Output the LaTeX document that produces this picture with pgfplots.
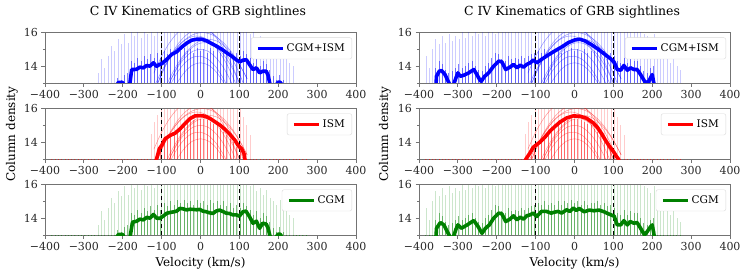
\documentclass[border=0pt]{standalone}
\usepackage{fontspec}
\setmainfont{DejaVu Serif}
\usepackage{pgfplots}
\pgfplotsset{compat=1.18}
\usepackage{pgfplotstable}

\definecolor{mgreen}{RGB}{0,128,0}

% vertical stripes: v, left CGM tall, left CGM mid, right CGM tall, right CGM mid, ISM tall, ISM mid
\pgfplotstableread{
v L Lm R Rm I Im
-382.5 0 0 14.6 0 0 0
-374 0 0 13.9 0 0 0
-365.5 0 0 15.0 0 0 0
-357 0 0 15.6 13.9 0 0
-348.5 0 0 15.3 14.3 0 0
-340 0 0 15.8 14.1 0 0
-331.5 0 0 15.4 13.8 0 0
-323 0 0 15.9 13.6 0 0
-314.5 0 0 15.5 13.7 0 0
-306 0 0 15.8 13.9 0 0
-297.5 0 0 15.6 14.1 0 0
-289 0 0 16.0 13.9 0 0
-280.5 0 0 15.7 14.0 0 0
-272 0 0 16.0 14.2 0 0
-263.5 13.6 0 15.8 14.3 0 0
-255 14.4 0 16.0 14.0 0 0
-246.5 13.9 0 15.9 13.8 0 0
-238 14.6 0 16.0 13.7 0 0
-229.5 15.2 0 15.8 14.0 0 0
-221 14.9 0 16.0 14.2 0 0
-212.5 15.6 13.3 16.0 14.5 0 0
-204 15.3 13.2 15.9 14.8 0 0
-195.5 15.9 13.5 16.0 14.7 0 0
-187 15.4 13.6 16.0 14.4 0 0
-178.5 16.0 14.3 16.0 14.3 0 0
-170 15.8 14.2 16.0 14.6 0 0
-161.5 16.0 14.5 16.0 14.4 0 0
-153 15.7 14.3 16.0 14.5 0 0
-144.5 16.0 14.6 16.0 14.4 0 0
-136 15.9 14.4 16.0 14.6 0 0
-127.5 16.0 14.7 16.0 14.5 14.5 0
-119 15.8 14.5 16.0 14.6 15.2 0
-110.5 16.0 14.8 16.0 14.7 15.6 13.2
-102 16.0 14.5 16.0 14.8 16.0 13.7
-93.5 16.0 14.9 16.0 14.9 16.0 14.0
-85 16.0 14.7 16.0 14.8 16.0 14.2
-76.5 16.0 15.0 16.0 15.0 16.0 14.3
-68 16.0 14.8 16.0 14.8 16.0 14.4
-59.5 16.0 15.1 16.0 14.9 16.0 14.7
-51 16.0 14.9 16.0 14.8 16.0 14.9
-42.5 16.0 15.1 16.0 15.0 16.0 15.1
-34 16.0 14.9 16.0 14.8 16.0 15.2
-25.5 16.0 15.0 16.0 15.0 16.0 15.3
-17 16.0 14.8 16.0 14.9 16.0 15.3
-8.5 16.0 15.1 16.0 15.1 16.0 15.4
0 16.0 14.9 16.0 14.9 16.0 15.4
8.5 16.0 15.0 16.0 15.0 16.0 15.4
17 16.0 14.8 16.0 14.8 16.0 15.3
25.5 16.0 15.1 16.0 15.0 16.0 15.2
34 16.0 14.9 16.0 14.8 16.0 15.1
42.5 16.0 15.0 16.0 14.9 16.0 15.0
51 16.0 14.8 16.0 14.9 16.0 14.8
59.5 16.0 15.0 16.0 15.0 16.0 14.6
68 16.0 14.7 16.0 14.8 16.0 14.4
76.5 16.0 14.9 16.0 14.9 16.0 14.2
85 16.0 14.6 16.0 14.7 16.0 14.0
93.5 16.0 14.8 16.0 14.8 16.0 13.7
102 16.0 14.6 16.0 14.6 16.0 13.5
110.5 16.0 14.9 16.0 14.3 15.5 13.2
119 16.0 14.7 16.0 14.2 15.0 0
127.5 15.9 14.5 16.0 14.5 14.4 0
136 16.0 14.2 16.0 14.2 0 0
144.5 15.6 14.4 16.0 14.4 0 0
153 15.8 14.0 16.0 14.3 0 0
161.5 15.4 14.3 16.0 14.3 0 0
170 15.7 14.1 16.0 14.0 0 0
178.5 15.2 13.8 15.9 13.7 0 0
187 15.0 13.4 15.8 13.6 0 0
195.5 14.8 13.2 15.5 13.9 0 0
204 15.1 13.5 15.9 14.0 0 0
212.5 14.5 13.2 15.0 0 0 0
221 14.8 0 15.3 0 0 0
229.5 14.2 0 14.6 0 0 0
238 14.0 0 14.9 0 0 0
246.5 0 0 14.2 0 0 0
255 0 0 14.5 0 0 0
263.5 0 0 14.0 0 0 0
272 0 0 13.8 0 0 0
}\stripes

% faint individual ISM profiles
\pgfplotstableread{
v A B C D E F G H I
-120 12.39 12.41 10.39 10.5 10.28 12.74 9.4 10.98 13.58
-100 13.56 13.53 11.81 11.88 11.65 13.70 10.87 12.20 14.59
-80 14.51 14.43 13.0 13.0 12.76 14.49 12.07 13.24 15.38
-60 15.25 15.1 13.95 13.88 13.61 15.12 13.0 14.09 15.96
-40 15.78 15.55 14.66 14.5 14.2 15.58 13.67 14.75 16.33
-20 16.09 15.77 15.13 14.88 14.53 15.87 14.07 15.22 16.5
0 16.2 15.77 15.37 15.0 14.59 15.99 14.2 15.51 16.44
20 16.09 15.55 15.37 14.88 14.40 15.95 14.07 15.6 16.18
40 15.78 15.1 15.13 14.5 13.94 15.74 13.67 15.51 15.70
60 15.25 14.43 14.66 13.88 13.22 15.37 13.0 15.22 15.01
80 14.51 13.53 13.95 13.0 12.24 14.83 12.07 14.75 14.11
100 13.56 12.41 13.0 11.88 11.0 14.12 10.87 14.09 13.0
120 12.39 11.07 11.81 10.5 9.5 13.25 9.4 13.24 11.68
}\domes

\pgfplotstableread{
v y
-240 12.0
-215 12.9
-211 13.03
-200 13.03
-196 12.8
-188 12.3
-182 12.9
-177 13.8
-170 13.8
-164 13.82
-156 13.94
-147 13.9
-138 14.04
-130 14.0
-121 14.2
-113 13.98
-106 14.1
-100 14.14
-87 14.4
-74 14.7
-61 14.86
-48 15.14
-36 15.36
-23 15.54
-10 15.6
3 15.6
16 15.5
29 15.34
42 15.18
55 15.0
67 14.8
80 14.6
93 14.36
101 14.26
110 14.36
118 14.38
126 14.1
135 13.8
144 13.9
152 13.6
160 13.7
169 13.7
174 13.45
178 13.0
185 12.5
195 12.9
200 13.05
205 13.05
209 12.9
220 12.0
}\meanTL

\pgfplotstableread{
v y
-120 12.5
-113 13.0
-106 13.6
-100 13.8
-91 14.2
-78 14.4
-65 14.54
-52 14.8
-40 15.1
-27 15.4
-14 15.56
-1 15.58
12 15.54
25 15.4
38 15.2
51 15.0
64 14.74
76 14.46
89 14.1
97 13.8
106 13.6
112 13.3
114 13.0
120 12.5
}\meanML

\pgfplotstableread{
v y
-240 12.0
-215 12.9
-211 13.03
-200 13.03
-196 12.8
-188 12.3
-181 12.9
-175 13.76
-164 13.82
-156 13.94
-147 13.9
-138 14.05
-130 14.0
-121 14.22
-113 14.0
-104 13.99
-96 14.12
-87 14.29
-78 14.34
-70 14.37
-61 14.42
-53 14.58
-44 14.55
-36 14.49
-27 14.53
-19 14.52
-10 14.5
-2 14.52
6 14.42
15 14.38
23 14.32
32 14.28
40 14.42
49 14.48
57 14.4
66 14.3
74 14.28
83 14.2
92 14.2
100 14.12
109 14.38
117 14.42
126 14.09
135 13.7
144 13.82
152 13.4
160 13.7
169 13.65
174 13.4
178 13.0
185 12.5
195 12.9
200 13.05
205 13.05
209 12.9
220 12.0
}\meanBL

\pgfplotstableread{
v y
-370 11.5
-356 13.0
-355 13.4
-348 13.7
-342 13.74
-333 13.5
-325 13.1
-318 12.8
-311 12.9
-305 13.3
-300 13.6
-294 13.4
-285 13.46
-272 13.6
-259 13.8
-251 13.5
-244 13.2
-240 13.1
-231 13.4
-221 13.6
-208 14.0
-195 14.3
-187 14.26
-177 13.8
-166 13.94
-157 14.1
-148 13.9
-140 14.06
-131 13.94
-123 14.1
-114 14.2
-106 14.36
-97 14.2
-85 14.4
-68 14.66
-51 14.9
-33 15.14
-16 15.4
1 15.56
14 15.6
27 15.5
42 15.3
59 15.04
76 14.74
93 14.44
102 14.24
110 13.8
119 13.76
127 14.04
136 13.76
144 13.9
153 13.8
161 13.8
170 13.5
183 13.0
191 13.1
200 13.5
204 13.0
210 12.0
}\meanTR

\pgfplotstableread{
v y
-135 12.5
-125 13.0
-115 13.34
-106 13.7
-97 13.86
-89 14.0
-76 14.3
-63 14.66
-50 14.94
-37 15.2
-20 15.44
-3 15.56
14 15.54
31 15.42
48 15.15
60 14.85
70 14.5
80 14.1
90 13.75
100 13.45
108 13.15
113 13.0
120 12.5
}\meanMR

\pgfplotstableread{
v y
-370 11.5
-356 13.0
-355 13.4
-345 13.74
-336 13.6
-325 13.1
-318 12.8
-311 12.9
-305 13.34
-300 13.6
-291 13.4
-276 13.6
-259 13.86
-248 13.5
-238 13.1
-229 13.4
-219 13.6
-208 14.0
-195 14.3
-187 14.26
-177 13.8
-166 13.94
-157 14.14
-148 13.9
-140 14.06
-131 13.94
-123 14.14
-114 14.2
-106 14.3
-97 14.1
-85 14.4
-72 14.4
-60 14.3
-51 14.36
-42 14.4
-33 14.3
-20 14.5
-12 14.4
-3 14.6
5 14.46
12 14.58
25 14.38
38 14.48
50 14.44
63 14.48
76 14.38
89 14.24
102 14.12
110 13.6
119 13.6
127 13.85
136 13.6
143 13.8
153 13.7
161 13.74
170 13.4
180 13.0
187 13.2
196 13.5
200 13.6
204 13.1
210 12.0
}\meanBR

\pgfplotsset{
  panel/.style={
    scale only axis, width=311pt, height=50.5pt,
    xmin=-400, xmax=400, ymin=13, ymax=16,
    xtick={-400,-300,-200,-100,0,100,200,300,400},
    xticklabels={−400,−300,−200,−100,0,100,200,300,400},
    ytick={14,16}, yticklabels={14,16},
    minor ytick={13,15},
    tick align=outside, tick pos=left,
    major tick length=3.5pt, minor tick length=2pt,
    axis line style={black!55, line width=0.8pt},
    tick style={black!55, line width=0.8pt},
    tick label style={font=\fontsize{11}{12}\selectfont, text=black!85},
    legend style={at={(1,1)}, anchor=north east, xshift=-4pt, yshift=-5pt,
      draw=black!15, rounded corners=2pt, fill=white,
      font=\fontsize{10.5}{12}\selectfont, inner xsep=5pt, inner ysep=4pt},
    legend cell align=left,
    legend image code/.code={\draw[##1] (0pt,0pt) -- (25pt,0pt);},
  },
  tall/.style={ycomb, line width=0.6pt, opacity=0.2, forget plot, no markers},
  mid/.style={ycomb, line width=0.9pt, opacity=0.5, forget plot, no markers},
  dome/.style={smooth, line width=0.5pt, opacity=0.4, forget plot, no markers},
  vref/.style={black, line width=1.1pt, dash pattern=on 4.5pt off 2.5pt, forget plot, no markers},
  mean/.style={line width=3.6pt, no markers, line join=round},
}

\begin{document}
\begin{tikzpicture}
\path[use as bounding box] (0pt,0pt) rectangle (748pt,277pt);

% ---------------- left column ----------------
\begin{axis}[panel, at={(45pt,194pt)}, anchor=south west]
  \addplot[tall, blue] table[x=v,y=L]{\stripes};
  \addplot[mid, blue] table[x=v,y=Lm]{\stripes};
  \foreach \c in {A,B,C,D,E,F,G,H,I}{
    \addplot[dome, blue] table[x=v,y=\c]{\domes};
  }
  \addplot[vref] coordinates {(-100,13) (-100,16)};
  \addplot[vref] coordinates {(100,13) (100,16)};
  \addplot[mean, blue] table[x=v,y=y]{\meanTL};
  \addlegendentry{CGM+ISM}
\end{axis}

\begin{axis}[panel, at={(45pt,118pt)}, anchor=south west]
  \addplot[tall, red] table[x=v,y=I]{\stripes};
  \addplot[mid, red] table[x=v,y=Im]{\stripes};
  \foreach \c in {A,B,C,D,E,F,G,H,I}{
    \addplot[dome, red] table[x=v,y=\c]{\domes};
  }
  \addplot[vref] coordinates {(-100,13) (-100,16)};
  \addplot[vref] coordinates {(100,13) (100,16)};
  \addplot[mean, red] table[x=v,y=y]{\meanML};
  \addlegendentry{ISM}
\end{axis}

\begin{axis}[panel, at={(45pt,42pt)}, anchor=south west]
  \addplot[tall, mgreen] table[x=v,y=L]{\stripes};
  \addplot[mid, mgreen] table[x=v,y=Lm]{\stripes};
  \addplot[vref] coordinates {(-100,13) (-100,16)};
  \addplot[vref] coordinates {(100,13) (100,16)};
  \addplot[mean, mgreen] table[x=v,y=y]{\meanBL};
  \addlegendentry{CGM}
\end{axis}

% ---------------- right column ----------------
\begin{axis}[panel, at={(419pt,194pt)}, anchor=south west]
  \addplot[tall, blue] table[x=v,y=R]{\stripes};
  \addplot[mid, blue] table[x=v,y=Rm]{\stripes};
  \foreach \c in {A,B,C,D,E,F,G,H,I}{
    \addplot[dome, blue] table[x=v,y=\c]{\domes};
  }
  \addplot[vref] coordinates {(-100,13) (-100,16)};
  \addplot[vref] coordinates {(100,13) (100,16)};
  \addplot[mean, blue] table[x=v,y=y]{\meanTR};
  \addlegendentry{CGM+ISM}
\end{axis}

\begin{axis}[panel, at={(419pt,118pt)}, anchor=south west]
  \addplot[tall, red] table[x=v,y=I]{\stripes};
  \addplot[mid, red] table[x=v,y=Im]{\stripes};
  \foreach \c in {A,B,C,D,E,F,G,H,I}{
    \addplot[dome, red] table[x=v,y=\c]{\domes};
  }
  \addplot[vref] coordinates {(-100,13) (-100,16)};
  \addplot[vref] coordinates {(100,13) (100,16)};
  \addplot[mean, red] table[x=v,y=y]{\meanMR};
  \addlegendentry{ISM}
\end{axis}

\begin{axis}[panel, at={(419pt,42pt)}, anchor=south west]
  \addplot[tall, mgreen] table[x=v,y=R]{\stripes};
  \addplot[mid, mgreen] table[x=v,y=Rm]{\stripes};
  \addplot[vref] coordinates {(-100,13) (-100,16)};
  \addplot[vref] coordinates {(100,13) (100,16)};
  \addplot[mean, mgreen] table[x=v,y=y]{\meanBR};
  \addlegendentry{CGM}
\end{axis}

% ---------------- titles and labels ----------------
\node[font=\fontsize{12.5}{14}\selectfont] at (198pt,265pt) {C IV Kinematics of GRB sightlines};
\node[font=\fontsize{12.5}{14}\selectfont] at (572pt,265pt) {C IV Kinematics of GRB sightlines};
\node[font=\fontsize{12}{14}\selectfont] at (200.5pt,14pt) {Velocity (km/s)};
\node[font=\fontsize{12}{14}\selectfont] at (574.5pt,14pt) {Velocity (km/s)};
\node[rotate=90, font=\fontsize{12}{14}\selectfont] at (12pt,143pt) {Column density};
\node[rotate=90, font=\fontsize{12}{14}\selectfont] at (385pt,143pt) {Column density};
\end{tikzpicture}
\end{document}
